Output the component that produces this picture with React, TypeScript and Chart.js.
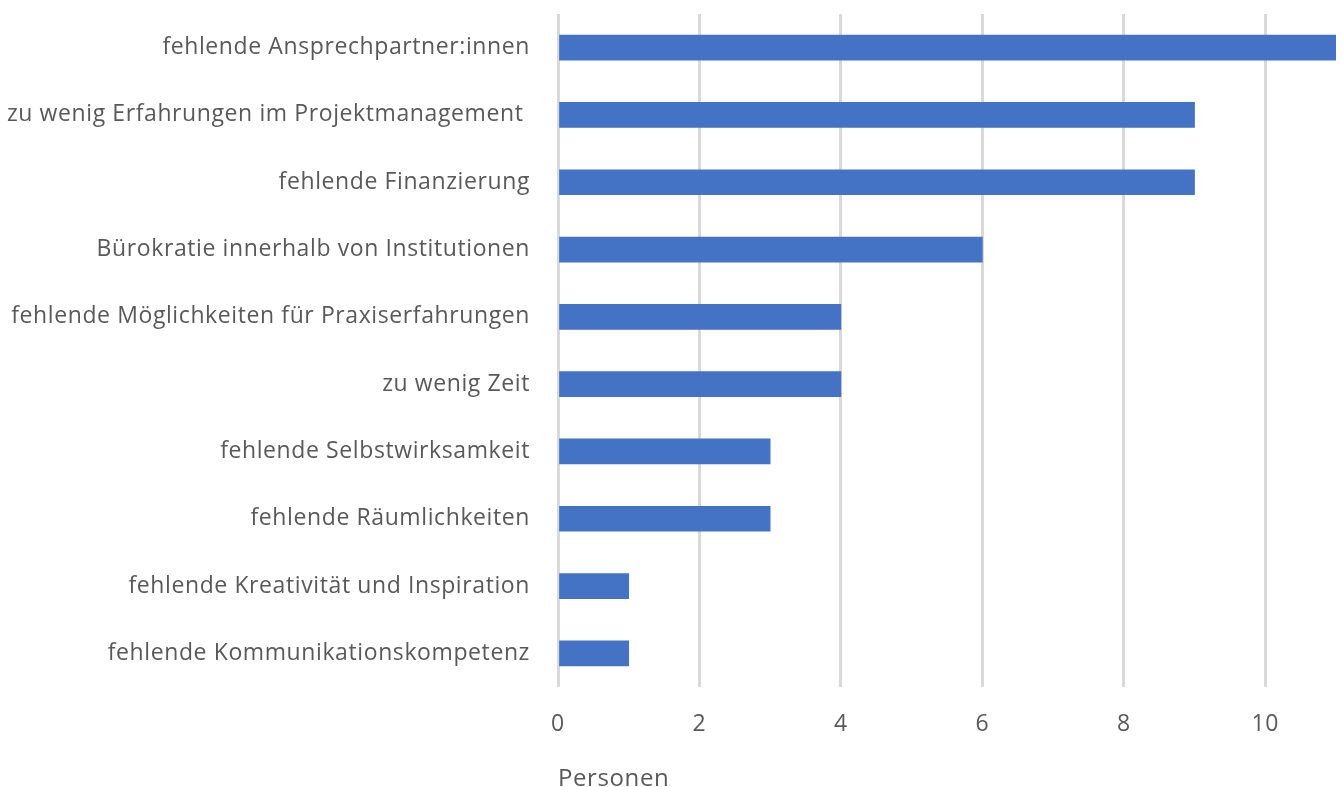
import React, { useEffect, useRef } from 'react';
import { Chart, registerables } from 'chart.js';
Chart.register(...registerables);

const categories = [
  'fehlende Ansprechpartner:innen',
  'zu wenig Erfahrungen im Projektmanagement ',
  'fehlende Finanzierung',
  'Bürokratie innerhalb von Institutionen',
  'fehlende Möglichkeiten für Praxiserfahrungen',
  'zu wenig Zeit',
  'fehlende Selbstwirksamkeit',
  'fehlende Räumlichkeiten',
  'fehlende Kreativität und Inspiration',
  'fehlende Kommunikationskompetenz',
];
const values = [11, 9, 9, 6, 4, 4, 3, 3, 1, 1];
const xTickValues = [0, 2, 4, 6, 8, 10];
const xMax = 11;
const axisTitle = 'Personen';

const FONT = "'Open Sans', sans-serif";
const TEXT = '#595959';
const SPACING = '0.6px';

const spacingPlugin = {
  id: 'letterSpacing',
  beforeInit(chart: any) {
    chart.ctx.letterSpacing = SPACING;
  },
  beforeUpdate(chart: any) {
    chart.ctx.letterSpacing = SPACING;
  },
  beforeDraw(chart: any) {
    chart.ctx.letterSpacing = SPACING;
  },
};

export default function App() {
  const ref = useRef<HTMLCanvasElement>(null);
  useEffect(() => {
    const chart = new Chart(ref.current!, {
      type: 'bar',
      data: {
        labels: categories,
        datasets: [{ data: values, backgroundColor: '#4472C4', barThickness: 25 }],
      },
      plugins: [spacingPlugin],
      options: {
        indexAxis: 'y',
        responsive: false,
        animation: false,
        layout: { padding: { top: 14, right: 7, left: 0, bottom: 0 } },
        plugins: { legend: { display: false }, tooltip: { enabled: false } },
        scales: {
          x: {
            min: 0,
            max: xMax,
            afterBuildTicks: (axis: any) => {
              axis.ticks = xTickValues.map((v) => ({ value: v }));
            },
            ticks: { color: TEXT, font: { family: FONT, size: 23 }, padding: 24 },
            grid: { color: '#d9d9d9', lineWidth: 3, drawTicks: false },
            border: { display: false },
            title: {
              display: true,
              text: axisTitle,
              align: 'start',
              color: TEXT,
              font: { family: FONT, size: 24, lineHeight: 0.625 },
              padding: { top: 0, bottom: 0 },
            },
            afterFit: (s: any) => {
              s.height = 100;
            },
          },
          y: {
            grid: { display: false, drawTicks: false },
            border: { display: false },
            ticks: { color: TEXT, font: { family: FONT, size: 23 }, padding: 28, autoSkip: false },
            afterFit: (s: any) => {
              s.width = 558;
              s.paddingTop = 0;
              s.paddingBottom = 0;
            },
          },
        },
      },
    });
    return () => chart.destroy();
  }, []);
  return (
    <div style={{ position: 'fixed', left: 0, top: 0, width: 1343, height: 787, background: '#fff' }}>
      <canvas ref={ref} width={1343} height={787} />
    </div>
  );
}
